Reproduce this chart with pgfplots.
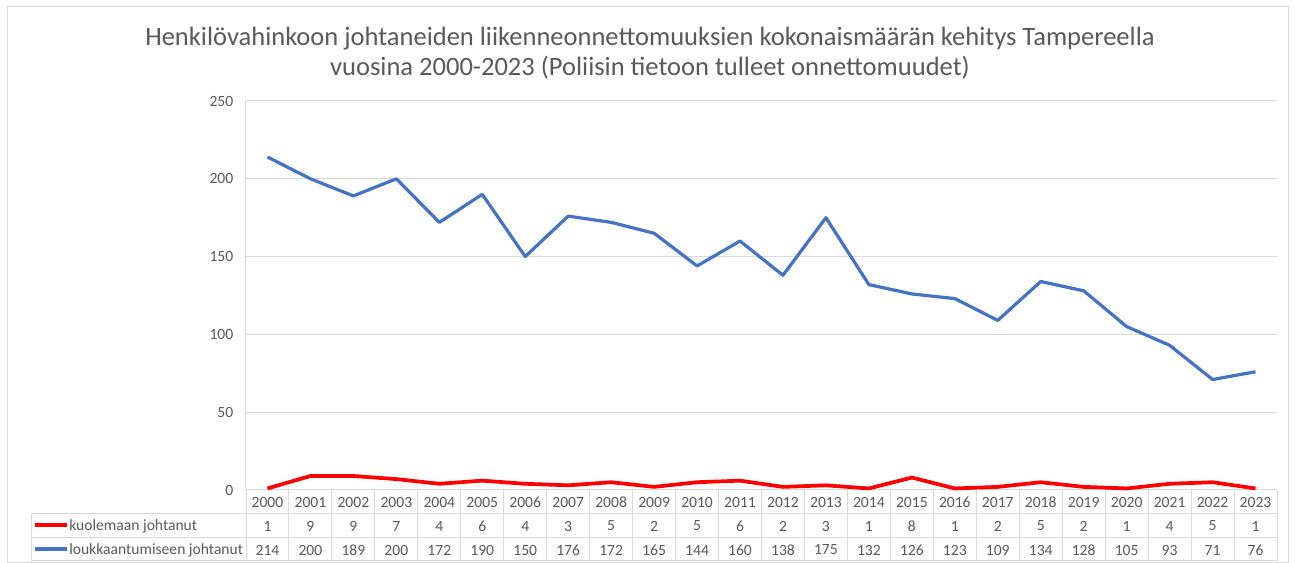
\documentclass[border=0pt]{standalone}
\usepackage{pgfplots}
\usepackage{pgfplotstable}
\pgfplotsset{compat=1.18}
\usepackage{fontspec}
\setmainfont{Carlito}

\definecolor{txtgray}{HTML}{595959}
\definecolor{gridgray}{HTML}{D9D9D9}
\definecolor{xlred}{HTML}{FF0000}
\definecolor{xlblue}{HTML}{4472C4}

% year, position, kuolemaan johtanut, loukkaantumiseen johtanut
\pgfplotstableread{
year x d i
2000 0 1 214
2001 1 9 200
2002 2 9 189
2003 3 7 200
2004 4 4 172
2005 5 6 190
2006 6 4 150
2007 7 3 176
2008 8 5 172
2009 9 2 165
2010 10 5 144
2011 11 6 160
2012 12 2 138
2013 13 3 175
2014 14 1 132
2015 15 8 126
2016 16 1 123
2017 17 2 109
2018 18 5 134
2019 19 2 128
2020 20 1 105
2021 21 4 93
2022 22 5 71
2023 23 1 76
}\data

\newcommand\tfont{\fontsize{11.7}{14}\selectfont}

\begin{document}
\begin{tikzpicture}[x=0.75pt,y=0.75pt]
\useasboundingbox (-246,-73) rectangle (1049,490);
\draw[gridgray] (-239,-72) rectangle (1042,484);

\node[align=center, text=txtgray, font=\fontsize{19.9}{22.5}\selectfont] at (404,437)
  {Henkilövahinkoon johtaneiden liikenneonnettomuuksien kokonaismäärän kehitys Tampereella\\
   vuosina 2000-2023 (Poliisin tietoon tulleet onnettomuudet)};

\begin{axis}[
    at={(0,0)}, anchor=south west,
    scale only axis,
    width=773.25pt, height=291.75pt,
    xmin=-0.5, xmax=23.5,
    ymin=0, ymax=250,
    ytick={0,50,...,250},
    xtick=\empty,
    ymajorgrids,
    grid style={gridgray, line width=0.75pt},
    axis x line=bottom, axis y line=left,
    axis line style={-, draw=gridgray, line width=0.75pt},
    major tick length=0pt,
    yticklabel style={text=txtgray, font=\tfont, xshift=-6pt},
    /pgf/number format/assume math mode=true,
    clip=false,
    every node near coord/.append style={anchor=center, text=txtgray, font=\tfont},
  ]
  \addplot[xlblue, line width=2.4pt, line join=round] table[x=x, y=i] {\data};
  \addplot[xlred, line width=2.8pt, line join=round] table[x=x, y=d] {\data};
  % data table rows
  \addplot[draw=none, mark=none, nodes near coords, point meta=explicit symbolic,
    every node near coord/.append style={yshift=-9pt}] table[x=x, y expr=0, meta=year] {\data};
  \addplot[draw=none, mark=none, nodes near coords, point meta=explicit symbolic,
    every node near coord/.append style={yshift=-27pt}] table[x=x, y expr=0, meta=d] {\data};
  \addplot[draw=none, mark=none, nodes near coords, point meta=explicit symbolic,
    every node near coord/.append style={yshift=-45pt}] table[x=x, y expr=0, meta=i] {\data};
\end{axis}

% table grid
\foreach \k in {0,...,24} \draw[gridgray, line width=0.75pt] ({\k*42.9583},0) -- ({\k*42.9583},-71);
\foreach \yy in {-24,-48,-71} \draw[gridgray, line width=0.75pt] (-214,\yy) -- (1031,\yy);
\draw[gridgray, line width=0.75pt] (-214,-24) -- (-214,-71);

% legend keys
\draw[xlred, line width=2.8pt] (-211,-35) -- (-179,-35);
\node[anchor=west, inner sep=0pt, text=txtgray, font=\tfont] at (-177,-36) {kuolemaan johtanut};
\draw[xlblue, line width=2.4pt] (-211,-59) -- (-179,-59);
\node[anchor=west, inner sep=0pt, text=txtgray, font=\tfont] at (-177,-60) {loukkaantumiseen johtanut};
\end{tikzpicture}
\end{document}
